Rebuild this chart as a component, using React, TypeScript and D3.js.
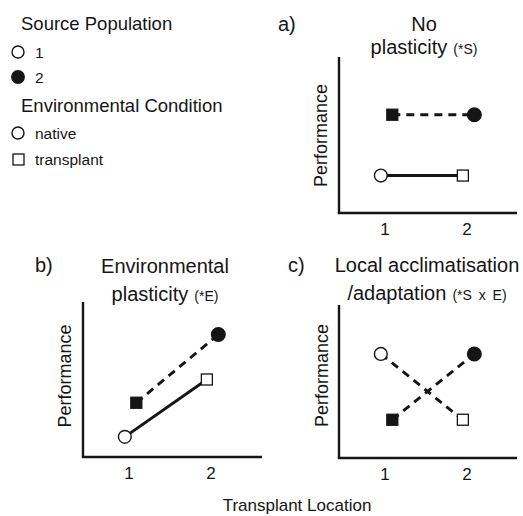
import React from "react";
import * as d3 from "d3";

// ---- data ----
const locations = [1, 2];
const locationLabels = ["1", "2"];
const popOffset = [-0.05, 0.09]; // horizontal dodge for population 1 / 2
// marker shape per population at each location: native = circle, transplant = square
const pop1Env = ["native", "transplant"];
const pop2Env = ["transplant", "native"];

const perfA_pop1 = [2.4, 2.4];
const perfA_pop2 = [6.3, 6.3];
const perfB_pop1 = [1.3, 5.0];
const perfB_pop2 = [3.5, 7.9];
const perfC_pop1 = [6.8, 2.5];
const perfC_pop2 = [2.5, 6.8];

const panelLetters = ["a)", "b)", "c)"];
const titleLine1 = ["No", "Environmental", "Local acclimatisation"];
const titleLine2 = ["plasticity", "plasticity", "/adaptation"];
const titleNote = ["(*S)", "(*E)", "(*S x E)"];
const pop1Dashed = [false, false, true];

const legendPopTitle = "Source Population";
const legendPopItems = ["1", "2"];
const legendEnvTitle = "Environmental Condition";
const legendEnvItems = ["native", "transplant"];
const yLabel = "Performance";
const xLabel = "Transplant Location";

// ---- layout ----
const FONT = "'Liberation Sans', Arial, Helvetica, sans-serif";
const INK = "#151515";

const panels = [
  { x0: 339, right: 517, top: 57, bottom: 213, lx: 278, ly: 31, tcx: 424, tb: [31, 54], px: 327, pcy: 135.5, p1: perfA_pop1, p2: perfA_pop2 },
  { x0: 83, right: 262, top: 302, bottom: 457, lx: 35, ly: 272, tcx: 165, tb: [273, 301], px: 71, pcy: 376, p1: perfB_pop1, p2: perfB_pop2 },
  { x0: 339, right: 517, top: 305, bottom: 458, lx: 288, ly: 272, tcx: 427, tb: [272, 300], px: 328, pcy: 375.5, p1: perfC_pop1, p2: perfC_pop2 },
];

function Marker({ x, y, env, filled }: { x: number; y: number; env: string; filled: boolean }) {
  const fill = filled ? INK : "#fff";
  if (env === "native") {
    return <circle cx={x} cy={y} r={filled ? 6.8 : 6.4} fill={fill} stroke={INK} strokeWidth={1.4} />;
  }
  const s = 11;
  return <rect x={x - s / 2} y={y - s / 2} width={s} height={s} fill={fill} stroke={INK} strokeWidth={1.3} />;
}

function Panel({ idx }: { idx: number }) {
  const p = panels[idx];
  const x = d3.scaleLinear().domain([0.44, 2.61]).range([p.x0, p.x0 + 178]);
  const y = d3.scaleLinear().domain([0, 10]).range([p.bottom, p.top]);
  const pts1 = locations.map((l, i) => [x(l + popOffset[0]), y(p.p1[i])] as [number, number]);
  const pts2 = locations.map((l, i) => [x(l + popOffset[1]), y(p.p2[i])] as [number, number]);
  const line = d3.line();
  return (
    <g>
      <text x={p.lx} y={p.ly} fontSize={20} fontFamily={FONT} fill={INK}>{panelLetters[idx]}</text>
      <text x={p.tcx} y={p.tb[0]} fontSize={20} fontFamily={FONT} fill={INK} textAnchor="middle">{titleLine1[idx]}</text>
      <text x={p.tcx} y={p.tb[1]} fontFamily={FONT} fill={INK} textAnchor="middle">
        <tspan fontSize={20}>{titleLine2[idx]}</tspan>
        <tspan fontSize={14} dx={6} wordSpacing={3}>{titleNote[idx]}</tspan>
      </text>
      <text
        transform={`translate(${p.px},${p.pcy}) rotate(-90)`}
        textAnchor="middle"
        fontSize={18}
        fontFamily={FONT}
        fill={INK}
      >
        {yLabel}
      </text>
      <line x1={p.x0} x2={p.x0} y1={p.top} y2={p.bottom} stroke={INK} strokeWidth={2.4} />
      <line x1={p.x0 - 1.2} x2={p.right} y1={p.bottom} y2={p.bottom} stroke={INK} strokeWidth={2.4} />
      {locations.map((l, i) => (
        <text key={i} x={x(l)} y={p.bottom + 22} fontSize={17} fontFamily={FONT} fill={INK} textAnchor="middle">
          {locationLabels[i]}
        </text>
      ))}
      <path d={line(pts1) || ""} fill="none" stroke={INK} strokeWidth={2.9} strokeDasharray={pop1Dashed[idx] ? "8,6" : undefined} />
      <path d={line(pts2) || ""} fill="none" stroke={INK} strokeWidth={2.9} strokeDasharray="8,6" />
      {pts1.map((pt, i) => (
        <Marker key={"a" + i} x={pt[0]} y={pt[1]} env={pop1Env[i]} filled={false} />
      ))}
      {pts2.map((pt, i) => (
        <Marker key={"b" + i} x={pt[0]} y={pt[1]} env={pop2Env[i]} filled={true} />
      ))}
    </g>
  );
}

export default function App() {
  return (
    <svg width={523} height={516} style={{ position: "absolute", left: 0, top: 0, background: "#fff" }}>
      <rect x={0} y={0} width={523} height={516} fill="#fff" />
      {/* legend */}
      <text x={21} y={30} fontSize={18.5} fontFamily={FONT} fill={INK}>{legendPopTitle}</text>
      <circle cx={18} cy={52} r={6} fill="#fff" stroke={INK} strokeWidth={1.4} />
      <text x={35} y={57.5} fontSize={15.5} fontFamily={FONT} fill={INK}>{legendPopItems[0]}</text>
      <circle cx={18} cy={77} r={6.2} fill={INK} stroke={INK} strokeWidth={1.4} />
      <text x={35} y={82.5} fontSize={15.5} fontFamily={FONT} fill={INK}>{legendPopItems[1]}</text>
      <text x={21} y={112} fontSize={18.5} fontFamily={FONT} fill={INK}>{legendEnvTitle}</text>
      <circle cx={18} cy={133} r={6} fill="#fff" stroke={INK} strokeWidth={1.4} />
      <text x={35} y={138.5} fontSize={15.5} fontFamily={FONT} fill={INK}>{legendEnvItems[0]}</text>
      <rect x={13} y={154} width={11} height={11} fill="#fff" stroke={INK} strokeWidth={1.3} />
      <text x={35} y={164.5} fontSize={15.5} fontFamily={FONT} fill={INK}>{legendEnvItems[1]}</text>
      {panels.map((_, i) => (
        <Panel key={i} idx={i} />
      ))}
      <text x={297} y={511} fontSize={17} fontFamily={FONT} fill={INK} textAnchor="middle">{xLabel}</text>
    </svg>
  );
}
